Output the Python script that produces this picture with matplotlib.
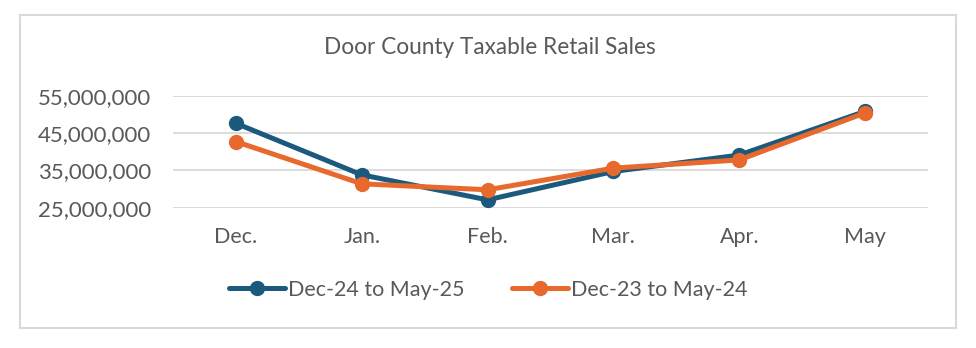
import matplotlib.pyplot as plt
from matplotlib.patches import Rectangle
from matplotlib.ticker import FuncFormatter

months = ['Dec.', 'Jan.', 'Feb.', 'Mar.', 'Apr.', 'May']
sales_24_25 = [47.6e6, 33.8e6, 27.1e6, 34.7e6, 39.1e6, 50.8e6]
sales_23_24 = [42.7e6, 31.4e6, 29.8e6, 35.6e6, 37.8e6, 50.4e6]
yticks = [25e6, 35e6, 45e6, 55e6]

blue = '#1B5A7D'
orange = '#E8692D'
text_col = '#595959'

plt.rcParams['font.family'] = ['Lato', 'DejaVu Sans']

fig = plt.figure(figsize=(9.76, 3.48), dpi=100)
ax = fig.add_axes([173 / 976, 1 - 207.7 / 348, 755 / 976, 112 / 348])

x = range(len(months))
ax.plot(x, sales_24_25, color=blue, lw=3.6, marker='o', ms=10,
        label='Dec-24 to May-25', solid_capstyle='round')
ax.plot(x, sales_23_24, color=orange, lw=3.6, marker='o', ms=10,
        label='Dec-23 to May-24', solid_capstyle='round')

ax.set_xlim(-0.5, len(months) - 0.5)
ax.set_ylim(25e6, 55e6)
ax.set_yticks(yticks)
ax.yaxis.set_major_formatter(FuncFormatter(lambda v, p: f'{v:,.0f}'))
ax.set_xticks(list(x))
ax.set_xticklabels(months)
ax.tick_params(length=0, labelsize=15.5, labelcolor=text_col)
ax.tick_params(axis='y', labelsize=16, pad=16)
ax.tick_params(axis='x', pad=14)
ax.grid(axis='y', color='#D9D9D9', lw=1.3)
ax.set_axisbelow(True)
for s in ax.spines.values():
    s.set_visible(False)

fig.text(489.5 / 976, 1 - 47.5 / 348, 'Door County Taxable Retail Sales',
         ha='center', va='center', fontsize=16.3, color=text_col)

leg = fig.legend(loc='center', bbox_to_anchor=(0.5, 1 - 290 / 348), ncol=2,
                 frameon=False, fontsize=15.5, handlelength=2.6, handletextpad=0.15,
                 columnspacing=2.2, labelcolor=text_col)

fig.add_artist(Rectangle((20 / 976, 1 - 328 / 348), 936 / 976, 313 / 348,
                         transform=fig.transFigure, fill=False,
                         edgecolor='#D9D9D9', lw=1.5))

fig.savefig('out.png', dpi=100)
